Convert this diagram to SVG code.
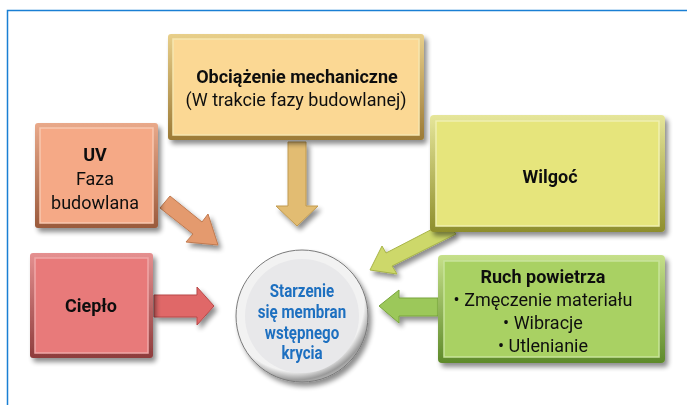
<svg xmlns="http://www.w3.org/2000/svg" width="687" height="405" viewBox="0 0 687 405">
<defs>
  <filter id="sh" x="-20%" y="-20%" width="150%" height="150%">
    <feGaussianBlur in="SourceAlpha" stdDeviation="2.5"/>
    <feOffset dx="3" dy="4" result="b"/>
    <feComponentTransfer><feFuncA type="linear" slope="0.45"/></feComponentTransfer>
    <feMerge><feMergeNode/><feMergeNode in="SourceGraphic"/></feMerge>
  </filter>
  <radialGradient id="ring" cx="0.45" cy="0.4" r="0.65">
    <stop offset="0.8" stop-color="#f2f2f2"/>
    <stop offset="0.9" stop-color="#9a9a9a"/>
    <stop offset="1" stop-color="#d8d8d8"/>
  </radialGradient>
  <linearGradient id="gTop" x1="0" y1="0" x2="0" y2="1"><stop offset="0" stop-color="#e8cf8a"/><stop offset="1" stop-color="#9c7a36"/></linearGradient>
  <linearGradient id="gUV" x1="0" y1="0" x2="0" y2="1"><stop offset="0" stop-color="#e9a98a"/><stop offset="1" stop-color="#9a5a3c"/></linearGradient>
  <linearGradient id="gCie" x1="0" y1="0" x2="0" y2="1"><stop offset="0" stop-color="#e59090"/><stop offset="1" stop-color="#8e3c3c"/></linearGradient>
  <linearGradient id="gWil" x1="0" y1="0" x2="0" y2="1"><stop offset="0" stop-color="#e6e69a"/><stop offset="1" stop-color="#8e8e2c"/></linearGradient>
  <linearGradient id="gRuch" x1="0" y1="0" x2="0" y2="1"><stop offset="0" stop-color="#c6e08a"/><stop offset="1" stop-color="#5e8a2a"/></linearGradient>
</defs>
<style>
  text { font-family: Roboto, "Liberation Sans", sans-serif; font-size: 18px; fill: #111; text-anchor: middle; }
  .b { font-weight: bold; }
  .blue { fill: #1f6fc0; font-weight: bold; font-size: 18px; }
  .inner { stroke-width: 1.5; }
</style>
<rect x="0" y="0" width="687" height="405" fill="#ffffff"/>
<path d="M7.5 405 V10.5 H687" fill="none" stroke="#1a7fd4" stroke-width="1.5"/>

<g id="connectors">
  <polygon points="288,142 306,142 306,206 318,206 297,226 276,206 288,206" fill="#e2bc72" stroke="#c09a50" stroke-width="1" filter="url(#sh)"/>
  <polygon points="160,208 170,196 202,222 208,214 218,245 186,242 193,234" fill="#e49a6e" stroke="#c07a50" stroke-width="1" filter="url(#sh)"/>
  <polygon points="154,295 197,295 197,287 214,306 197,325 197,317 154,317" fill="#e06868" stroke="#b84848" stroke-width="1" filter="url(#sh)"/>
  <polygon points="446,222 456,234 392,266 397,274 370,270 382,246 386,253" fill="#cdd86a" stroke="#a8b448" stroke-width="1" filter="url(#sh)"/>
  <polygon points="438,298 399,298 399,290 379,306 399,323 399,316 438,316" fill="#9cc85a" stroke="#78a43c" stroke-width="1" filter="url(#sh)"/>
</g>

<g id="node-obciazenie" filter="url(#sh)">
  <rect x="168" y="34" width="256" height="106" rx="3" fill="url(#gTop)"/>
  <rect x="173" y="39" width="246" height="96" fill="#fbd894" stroke="#f6e6b0" class="inner"/>
  <text x="297" y="83" class="b">Obciążenie mechaniczne</text>
  <text x="296" y="106">(W trakcie fazy budowlanej)</text>
</g>

<g id="node-uv" filter="url(#sh)">
  <rect x="35" y="123" width="123" height="105" rx="3" fill="url(#gUV)"/>
  <rect x="40" y="128" width="113" height="95" fill="#f5a986" stroke="#f8c8b0" class="inner"/>
  <text x="95" y="161" class="b">UV</text>
  <text x="95" y="185">Faza</text>
  <text x="95" y="209">budowlana</text>
</g>

<g id="node-cieplo" filter="url(#sh)">
  <rect x="30" y="253" width="123" height="105" rx="3" fill="url(#gCie)"/>
  <rect x="35" y="258" width="113" height="95" fill="#e87a7a" stroke="#f0a8a8" class="inner"/>
  <text x="91" y="312" class="b">Ciepło</text>
</g>

<g id="node-wilgoc" filter="url(#sh)">
  <rect x="430" y="115" width="235" height="117" rx="4" fill="url(#gWil)"/>
  <rect x="436" y="121" width="223" height="105" fill="#e6e57c" stroke="#f0f0b0" class="inner"/>
  <text x="550" y="183" class="b">Wilgoć</text>
</g>

<g id="node-ruch" filter="url(#sh)">
  <rect x="438" y="255" width="227" height="108" rx="4" fill="url(#gRuch)"/>
  <rect x="444" y="261" width="215" height="96" fill="#a9d163" stroke="#c8e49a" class="inner"/>
  <text x="543" y="283" class="b">Ruch powietrza</text>
  <text x="543" y="306">• Zmęczenie materiału</text>
  <text x="543" y="329">• Wibracje</text>
  <text x="543" y="352">• Utlenianie</text>
</g>

<g id="node-center" filter="url(#sh)">
  <circle cx="302" cy="316" r="66" fill="url(#ring)" stroke="#7a7a7a" stroke-width="1"/>
  <circle cx="302" cy="316" r="57" fill="#e8e8ea"/>
  <g transform="translate(302 0) scale(0.84 1)">
    <text x="0" y="297" class="blue">Starzenie</text>
    <text x="0" y="318" class="blue">się membran</text>
    <text x="0" y="339" class="blue">wstępnego</text>
    <text x="0" y="359" class="blue">krycia</text>
  </g>
</g>
</svg>
